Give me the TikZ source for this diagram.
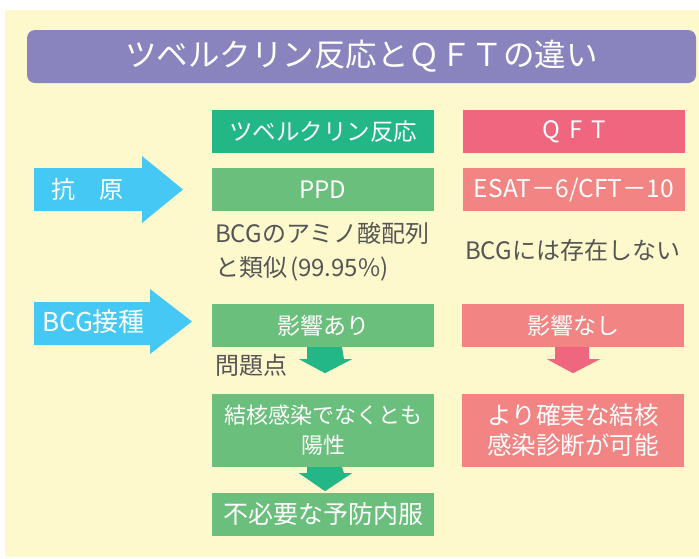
\documentclass[tikz,border=0pt]{standalone}
\usepackage{fontspec}
\setmainfont{Noto Sans CJK JP}
\usetikzlibrary{calc}
\definecolor{cream}{HTML}{FEF9CD}
\definecolor{titlepurple}{HTML}{8983BE}
\definecolor{gdark}{HTML}{23B787}
\definecolor{glight}{HTML}{6BBF7C}
\definecolor{pdark}{HTML}{F0667F}
\definecolor{plight}{HTML}{F28583}
\definecolor{bluearrow}{HTML}{46C8F5}
\definecolor{graytext}{HTML}{555555}
\tikzset{
  box/.style={minimum width=222pt, minimum height=43pt, inner sep=0pt, text=white, font=\fontsize{23}{30}\selectfont, align=center},
  ghead/.style={box, fill=gdark},
  gbox/.style={box, fill=glight},
  phead/.style={box, fill=pdark},
  pbox/.style={box, fill=plight},
  graylbl/.style={text=graytext, font=\fontsize{24}{34}\selectfont, inner sep=0pt, align=left},
  bluelbl/.style={text=white, font=\fontsize{24}{30}\selectfont, inner sep=0pt},
}
\begin{document}
\begin{tikzpicture}[x=1pt,y=-1pt]
\useasboundingbox (0,0) rectangle (699,558);
\fill[white] (0,0) rectangle (699,558);
\fill[cream] (5,9.5) rectangle (699,557);
% title
\node[fill=titlepurple, rounded corners=8pt, minimum width=669pt, minimum height=53pt, inner sep=0pt,
  text=white, font=\fontsize{31.5}{36}\selectfont] (title) at (361.5,56.5) {ツベルクリン反応とＱＦＴの違い};
% headers
\node[ghead, font=\fontsize{23.5}{30}\selectfont] (h1) at (323,131.5) {ツベルクリン反応};
\node[phead, font=\fontsize{24}{30}\selectfont] (h2) at (574,131.5) {Q\hspace{9pt}F\hspace{9pt}T};
% antigen row
\node[gbox, font=\fontsize{24}{30}\selectfont] (ppd) at (323,189.5) {PPD};
\node[pbox, font=\fontsize{24.5}{30}\selectfont] (esat) at (574,189.5) {ESAT－6/CFT－10};
\node[graylbl, anchor=north west] (ppdnote) at (215,222) {BCGのアミノ酸配列\\と類似\hspace{3pt}(99.95\%)};
\node[graylbl, anchor=west] (esatnote) at (465,250) {BCGには存在しない};
% blue arrows
\fill[bluearrow] (34,168) -- (142,168) -- (142,156) -- (183,189.5) -- (142,223) -- (142,211) -- (34,211) -- cycle;
\node[bluelbl] (antigen) at (87,189.5) {抗　原};
\fill[bluearrow] (34,302) -- (150,302) -- (150,289) -- (192,321.5) -- (150,354) -- (150,345) -- (34,345) -- cycle;
\node[bluelbl, anchor=west, font=\fontsize{26}{30}\selectfont] (bcg) at (42,322) {BCG接種};
% BCG row
\node[gbox] (eff1) at (323,325.5) {影響あり};
\node[pbox] (eff2) at (573,325.5) {影響なし};
\node[graylbl, anchor=west] (prob) at (215,365) {問題点};
\node[gbox, minimum height=73pt, font=\fontsize{22}{30}\selectfont] (fp) at (323,430.5) {結核感染でなくとも\\陽性};
\node[pbox, minimum height=73pt, font=\fontsize{24.5}{30}\selectfont] (diag) at (573,430.5) {より確実な結核\\感染診断が可能};
\node[gbox, font=\fontsize{25}{30}\selectfont] (unn) at (323,514.5) {不必要な予防内服};
% down arrows
\fill[gdark] ($(eff1.south)+(-16,0)$) -- ++(0,12) -- ++(-8,0) -- ($(eff1.south)+(2,26)$) -- ($(eff1.south)+(29,12)$) -- ++(-8,0) -- ($(eff1.south)+(19,0)$) -- cycle;
\fill[gdark] ($(fp.south)+(-16,0)$) -- ++(0,6) -- ++(-8,0) -- ($(fp.south)+(2,24)$) -- ($(fp.south)+(29,6)$) -- ++(-8,0) -- ($(fp.south)+(19,0)$) -- cycle;
\fill[pdark] ($(eff2.south)+(-18,0)$) -- ++(0,12) -- ++(-8,0) -- ($(eff2.south)+(0,26)$) -- ($(eff2.south)+(27,12)$) -- ++(-11,0) -- ($(eff2.south)+(16,0)$) -- cycle;
\end{tikzpicture}
\end{document}
